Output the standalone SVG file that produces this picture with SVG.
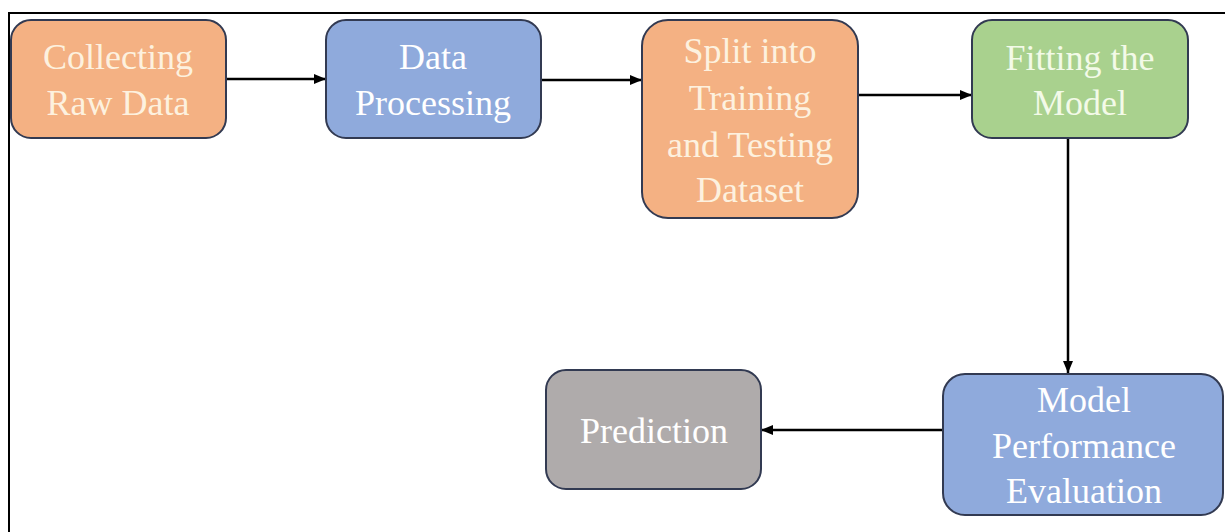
<svg xmlns="http://www.w3.org/2000/svg" width="1225" height="532" viewBox="0 0 1225 532">
  <defs>
    <marker id="arrow" viewBox="0 0 12 10" refX="12" refY="5" markerWidth="12" markerHeight="11" markerUnits="userSpaceOnUse" orient="auto">
      <path d="M0,0 L12,5 L0,10 z" fill="#000"/>
    </marker>
    <style>
      .box { stroke: #323a52; stroke-width: 2; }
      .orange { fill: #f4b183; }
      .blue { fill: #8faadc; }
      .green { fill: #a9d18e; }
      .gray { fill: #afabab; }
      .label { font-size: 36px; text-anchor: middle; fill: #ffffff; }
      .cream { fill: #fdf1df; }
      .pale { fill: #f3fae8; }
      .link { stroke: #000; stroke-width: 2.5; fill: none; marker-end: url(#arrow); }
      .frame { stroke: #000; stroke-width: 2; fill: none; }
    </style>
  </defs>

  <rect width="1225" height="532" fill="#ffffff"/>

  <!-- outer frame: left and top edges -->
  <path class="frame" d="M9,532 L9,13 L1225,13"/>

  <!-- connectors -->
  <g id="connectors">
    <line class="link" x1="226" y1="79" x2="326" y2="79"/>
    <line class="link" x1="541" y1="80" x2="642" y2="80"/>
    <line class="link" x1="858" y1="95" x2="972" y2="95"/>
    <line class="link" x1="1068" y1="138" x2="1068" y2="373"/>
    <line class="link" x1="943" y1="430" x2="761" y2="430"/>
  </g>

  <g font-family="Liberation Serif, Times New Roman, DejaVu Serif, serif">
    <g id="collecting">
      <rect class="box orange" x="11" y="20" width="215" height="118" rx="20"/>
      <text class="label cream" x="118" y="69">Collecting</text>
      <text class="label cream" x="118" y="115">Raw Data</text>
    </g>

    <g id="processing">
      <rect class="box blue" x="326" y="20" width="215" height="118" rx="20"/>
      <text class="label" x="433" y="69">Data</text>
      <text class="label" x="433" y="115">Processing</text>
    </g>

    <g id="split">
      <rect class="box orange" x="642" y="20" width="216" height="198" rx="26"/>
      <text class="label cream" x="750" y="63">Split into</text>
      <text class="label cream" x="750" y="110">Training</text>
      <text class="label cream" x="750" y="157">and Testing</text>
      <text class="label cream" x="750" y="202">Dataset</text>
    </g>

    <g id="fitting">
      <rect class="box green" x="972" y="20" width="216" height="118" rx="20"/>
      <text class="label pale" x="1080" y="70">Fitting the</text>
      <text class="label pale" x="1080" y="115">Model</text>
    </g>

    <g id="evaluation">
      <rect class="box blue" x="943" y="374" width="280" height="141" rx="22"/>
      <text class="label" x="1084" y="412">Model</text>
      <text class="label" x="1084" y="458">Performance</text>
      <text class="label" x="1084" y="503">Evaluation</text>
    </g>

    <g id="prediction">
      <rect class="box gray" x="546" y="370" width="215" height="119" rx="20"/>
      <text class="label" x="654" y="443">Prediction</text>
    </g>
  </g>
</svg>
